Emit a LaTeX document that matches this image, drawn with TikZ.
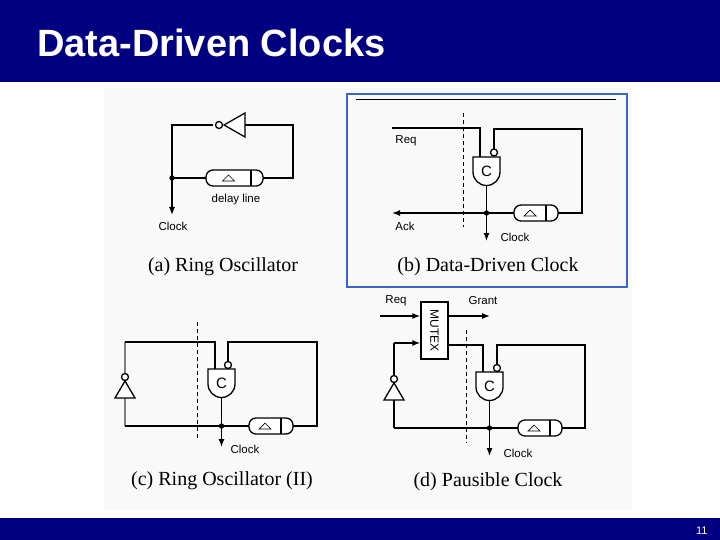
\documentclass[tikz,border=0pt]{standalone}
\usepackage{fontspec}
\setmainfont{Liberation Serif}
\setsansfont{Liberation Sans}
\usetikzlibrary{arrows.meta}
\definecolor{navy}{RGB}{0,0,128}
\definecolor{panelbg}{RGB}{248,249,248}
\definecolor{bluebox}{RGB}{60,100,205}
\tikzset{
  wire/.style={line width=1.3pt},
  arr/.style={wire,-{Latex[length=8pt,width=6pt]}},
  lbl/.style={font=\sffamily\fontsize{11.5}{13}\selectfont},
  captxt/.style={font=\fontsize{20}{23}\selectfont},
  dashln/.style={dash pattern=on 4pt off 3pt,line width=0.8pt},
}
\newcommand{\cgate}[3]{% left x, top y, right x
  \draw[wire,fill=white] (#1,#2) -- (#1,#2+15) arc[start angle=180,end angle=0,radius={(#3-#1)/2}] -- (#3,#2) -- cycle;
  \node[font=\sffamily\fontsize{15}{15}\selectfont] at ({(#1+#3)/2},#2+14) {C};}
\newcommand{\dline}[3]{% x1 x2 y
  \draw[wire,fill=white,rounded corners=7pt] (#1,#3-8) rectangle (#2,#3+8);
  \draw[wire] (#2-12,#3-8) -- (#2-12,#3+8);
  \draw[line width=0.7pt] ({(#1+#2)/2-12},#3+3) -- ({(#1+#2)/2-6},#3-3) -- ({(#1+#2)/2},#3+3) -- cycle;}
\newcommand{\invup}[2]{% x, bubble y (pointing up)
  \draw[wire,fill=white] (#1,#2) circle (3.5pt);
  \draw[wire,fill=white] (#1,#2+4) -- (#1-10,#2+21) -- (#1+10,#2+21) -- cycle;}
\begin{document}
\begin{tikzpicture}[x=1pt,y=-1pt]
\useasboundingbox (0,0) rectangle (720,540);
\fill[white] (0,0) rectangle (720,540);
\fill[navy] (0,0) rectangle (720,82);
\fill[navy] (0,518) rectangle (720,540);
\node[anchor=base west,text=white,inner sep=0pt,font=\sffamily\bfseries\fontsize{38}{40}\selectfont] (title) at (37,57) {Data-Driven Clocks};
\node[anchor=base east,text=white,font=\sffamily\fontsize{11}{12}\selectfont] (pg) at (711,534) {11};
\fill[panelbg] (104,88) rectangle (632,510);
% ---------- (a)
\draw[wire] (172,178) -- (172,125) -- (213,125);
\draw[wire,fill=white] (219,125) circle (3.5pt);
\draw[wire,fill=white] (224,125) -- (245,113) -- (245,137) -- cycle;
\draw[wire] (245,125) -- (293,125) -- (293,178) -- (263,178);
\draw[wire] (172,178) -- (206,178);
\dline{206}{263}{178}
\fill (172,178) circle (2.7pt);
\draw[arr] (172,178) -- (172,215);
\node[lbl] (ca) at (173,226) {Clock};
\node[lbl] (dl) at (236,200) {delay line};
\node[captxt] (capa) at (223,267) {(a) Ring Oscillator};
% ---------- (b)
\draw[bluebox,line width=2.5pt] (347,94) rectangle (627,287);
\draw[line width=0.8pt] (356,99) -- (616,99);
\draw[dashln] (463,113) -- (463,227);
\draw[wire] (392,128) -- (480,128) -- (480,157);
\draw[wire] (494,149) -- (494,129) -- (582,129) -- (582,213) -- (558,213);
\cgate{473}{157}{500}
\draw[wire,fill=white] (494,152.5) circle (3.5pt);
\draw[wire] (486.5,186) -- (486.5,213);
\draw[wire] (486.5,213) -- (514,213);
\dline{514}{558}{213}
\draw[arr] (486.5,213) -- (392,213);
\fill (486.5,213) circle (2.7pt);
\draw[arr] (486.5,213) -- (486.5,241);
\node[lbl] (req) at (406,141) {Req};
\node[lbl] (ack) at (405,226) {Ack};
\node[lbl] (cb) at (515,237) {Clock};
\node[captxt] (capb) at (488,267) {(b) Data-Driven Clock};
% ---------- (c)
\draw[dashln] (197,322) -- (197,438);
\draw[wire,gray] (125,342) -- (125,373);
\draw[wire,gray] (125,398) -- (125,426);
\draw[wire] (125,342) -- (215,342) -- (215,369);
\draw[wire] (228,361) -- (228,342) -- (317,342) -- (317,426) -- (293,426);
\invup{125}{377}
\cgate{208}{369}{235}
\draw[wire,fill=white] (228,365) circle (3.5pt);
\draw[wire] (221.5,397) -- (221.5,426);
\draw[wire] (125,426) -- (249,426);
\dline{249}{293}{426}
\fill (221.5,426) circle (2.7pt);
\draw[arr] (221.5,426) -- (221.5,447);
\node[lbl] (cc) at (245,449) {Clock};
\node[captxt] (capc) at (222,481) {(c) Ring Oscillator (II)};
% ---------- (d)
\draw[dashln] (466,330) -- (466,443);
\node[draw,line width=1.3pt,fill=white,minimum width=27pt,minimum height=57pt,inner sep=0pt] (mutex) at (434.5,330.5) {};
\node[rotate=-90,font=\sffamily\fontsize{12}{13}\selectfont] at (mutex) {MUTEX};
\draw[arr] (380,316) -- (mutex.west |- 0,316);
\draw[arr] (mutex.east |- 0,316) -- (490,316);
\draw[wire] (394,375) -- (394,343);
\draw[arr] (394,343) -- (mutex.west |- 0,343);
\draw[wire] (394,400) -- (394,428);
\draw[wire] (mutex.east |- 0,345) -- (483,345) -- (483,372);
\draw[wire] (497,364) -- (497,345) -- (585,345) -- (585,428) -- (562,428);
\invup{394}{379}
\cgate{476}{372}{503}
\draw[wire,fill=white] (497,368) circle (3.5pt);
\draw[wire] (489.5,400) -- (489.5,428);
\draw[wire] (394,428) -- (518,428);
\dline{518}{562}{428}
\fill (489.5,428) circle (2.7pt);
\draw[arr] (489.5,428) -- (489.5,456);
\node[lbl] (reqd) at (396,301) {Req};
\node[lbl] (grant) at (483,301) {Grant};
\node[lbl] (cd) at (518,453) {Clock};
\node[captxt] (capd) at (488,482) {(d) Pausible Clock};
\end{tikzpicture}
\end{document}
